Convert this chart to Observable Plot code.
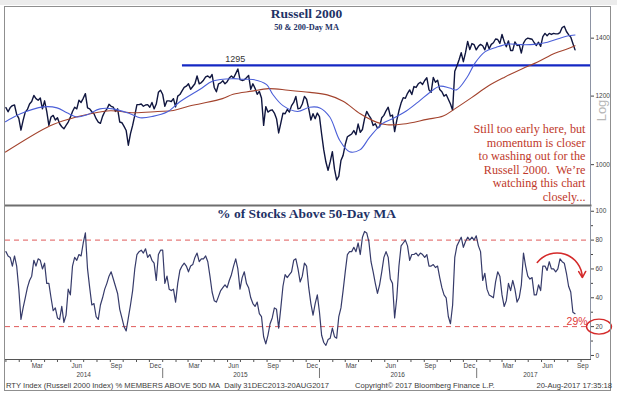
<!DOCTYPE html>
<html>
<head>
<meta charset="utf-8">
<script src="https://cdn.jsdelivr.net/npm/d3@7"></script>
<script src="https://cdn.jsdelivr.net/npm/@observablehq/plot@0.6"></script>
<style>
html, body { margin:0; padding:0; background:#fff; }
#wrap { position:relative; width:617px; height:397px; overflow:hidden; }
#band { position:absolute; left:0; top:0; width:617px; height:5px; background:#ececec; }
#topChart, #bottomChart { position:absolute; left:0; }
#topChart { top:0; }
#bottomChart { top:205px; }
#frame { position:absolute; left:4px; top:6px; width:605px; height:383px; border:1.5px solid #8f8f8f; pointer-events:none; }
.foot { position:absolute; top:381px; font:7.6px "Liberation Sans", Arial, sans-serif; color:#3a3a3a; white-space:nowrap; line-height:10px; }
svg { overflow: visible; }
</style>
</head>
<body>
<div id="wrap">
  <div id="band"></div>
  <div id="topChart"></div>
  <div id="bottomChart"></div>
  <div id="frame"></div>
  <div class="foot" style="left:6px">RTY Index (Russell 2000 Index) % MEMBERS ABOVE 50D MA&nbsp; Daily 31DEC2013-20AUG2017</div>
  <div class="foot" style="left:355px">Copyright© 2017 Bloomberg Finance L.P.</div>
  <div class="foot" style="right:5px">20-Aug-2017 17:35:18</div>
</div>
<script>
// ---------- DATA (5-calendar-day grid starting 2014-01-01) ----------
const rty2014 = [1164,1151,1164,1170,1172,1143,1131,1096,1125,1150,
  1158,1175,1183,1202,1192,1187,1194,1160,1185,1152,
  1110,1135,1140,1126,1133,1115,1106,1100,1110,1120,
  1134,1152,1165,1160,1187,1180,1193,1208,1163,1160,
  1151,1145,1130,1120,1116,1137,1151,1159,1174,1168,
  1165,1152,1160,1120,1118,1107,1095,1053,1086,1110,
  1140,1173,1173,1175,1168,1172,1173,1165,1180,1160,
  1175,1212,1219];
const rty2015 = [1205,1168,1185,1185,1183,1192,1166,1200,1205,1217,
  1228,1232,1240,1222,1231,1240,1266,1240,1244,1252,
  1263,1266,1260,1271,1228,1214,1240,1243,1250,1240,
  1247,1259,1266,1259,1274,1290,1254,1251,1253,1260,
  1268,1222,1240,1225,1206,1215,1194,1110,1167,1150,
  1155,1157,1147,1130,1088,1117,1147,1145,1158,1150,
  1170,1180,1199,1160,1162,1175,1199,1190,1160,1126,
  1145,1130,1147];
const rty2016 = [1136,1085,1040,1007,985,1008,1035,988,960,970,
  1011,1025,1055,1077,1081,1085,1095,1083,1114,1090,
  1098,1130,1152,1140,1130,1110,1115,1102,1106,1133,
  1140,1154,1165,1138,1141,1092,1125,1154,1178,1195,
  1193,1209,1220,1205,1231,1228,1240,1245,1238,1251,
  1260,1220,1212,1261,1245,1252,1221,1214,1200,1205,
  1190,1175,1156,1282,1300,1322,1347,1315,1347,1388,
  1358,1380,1376];
const rty2017 = [1357,1370,1377,1372,1357,1384,1361,1377,1383,1397,
  1395,1381,1414,1388,1368,1390,1355,1355,1386,1373,
  1375,1346,1382,1395,1400,1398,1396,1383,1373,1385,
  1370,1406,1418,1409,1418,1414,1418,1416,1416,1421,
  1440,1445,1425,1413,1404,1380,1357];

const pct2014 = [72,69,68,62,69,62,46,25,33,40,
  47,52,55,66,62,67,66,60,64,50,
  50,40,31,33,26,25,34,23,28,46,
  42,62,68,66,70,69,78,85,60,47,
  35,36,27,25,35,40,46,50,55,58,
  53,48,43,32,26,20,17,26,35,45,
  60,70,72,73,71,74,68,70,66,64,
  52,70,73];
const pct2015 = [73,50,55,46,45,46,37,50,59,62,
  64,62,58,62,63,68,71,65,67,67,
  69,65,55,44,38,37,41,45,47,49,
  47,52,56,62,67,60,46,54,58,50,
  47,40,36,34,37,29,27,13,8,14,
  22,26,33,32,19,33,48,56,54,56,
  58,66,67,60,51,55,64,62,47,36,
  28,36,42];
const pct2016 = [30,14,9,7,11,12,19,13,12,27,
  33,45,58,70,72,72,75,72,78,70,
  82,86,85,79,65,58,50,43,49,58,
  68,72,68,53,50,26,40,62,76,78,
  80,76,66,70,70,71,69,71,70,68,
  70,62,62,63,61,62,54,47,42,40,
  27,22,35,68,76,79,82,75,79,82,
  80,82,80];
const pct2017 = [83,76,72,52,57,46,42,41,40,51,
  58,55,42,34,38,50,45,52,46,37,
  40,49,71,62,55,53,54,42,42,49,
  45,62,62,59,65,60,60,58,60,67,
  65,64,57,48,44,30,29];

// moving averages
const ma50Dates = ["2013-12-31","2014-02-04","2014-03-29","2014-04-30","2014-05-23","2014-06-16","2014-07-09","2014-08-08","2014-09-07","2014-10-17","2014-11-09","2014-12-09",
  "2015-01-11","2015-02-10","2015-03-29","2015-04-28","2015-06-13","2015-07-07","2015-07-30","2015-08-31","2015-09-14","2015-10-08","2015-11-11","2015-12-09",
  "2016-01-02","2016-01-25","2016-02-17","2016-03-11","2016-04-04","2016-04-27","2016-05-27","2016-06-19","2016-07-22","2016-08-21","2016-09-13","2016-10-07","2016-10-30","2016-11-15","2016-12-09","2016-12-28",
  "2017-01-20","2017-02-15","2017-03-15","2017-04-15","2017-05-15","2017-06-15","2017-07-10","2017-07-31","2017-08-18"];
const ma50Values = [1121,1145,1166,1163,1148,1135,1142,1160,1160,1145,1133,1137,
  1150,1182,1222,1249,1257,1255,1254,1237,1206,1170,1152,1165,
  1163,1135,1067,1035,1040,1076,1116,1130,1154,1185,1211,1232,1226,1220,1260,1310,
  1350,1366,1378,1376,1377,1385,1398,1408,1412];
const ma200Dates = ["2013-12-31","2014-04-14","2014-05-31","2014-07-17","2014-09-01","2014-10-25","2014-12-20",
  "2015-01-26","2015-03-02","2015-03-30","2015-05-20","2015-06-14","2015-07-28","2015-09-04","2015-10-20","2015-12-10",
  "2016-01-19","2016-02-25","2016-04-05","2016-05-14","2016-06-06","2016-07-14","2016-09-07","2016-10-15","2016-11-11","2016-12-21",
  "2017-01-27","2017-03-07","2017-04-16","2017-05-23","2017-07-02","2017-08-01","2017-08-18"];
const ma200Values = [1034,1109,1130,1145,1154,1148,1152,
  1155,1168,1176,1192,1206,1216,1224,1219,1212,
  1204,1184,1145,1119,1112,1114,1128,1138,1160,1196,
  1232,1262,1290,1314,1345,1361,1372];

const rtyTicks = [1000, 1200, 1400];
const pctTicks = [0, 20, 40, 60, 80, 100];
const pctMinorTicks = [10, 30, 50, 70, 90];
const pctBands = [20, 80];
const resistance = 1295;
const resistanceStart = "2015-02-16";
const monthLabelNames = ["Mar","Jun","Sep","Dec"];
const yearNames = ["2014","2015","2016","2017"];
const yearLabelDates = ["2014-07-01","2015-07-01","2016-07-01","2017-05-06"];
const annotationText = "Still too early here, but\nmomentum is closer\nto washing out for the\nRussell 2000.  We\u2019re\nwatching this chart\nclosely...";

// ---------- BUILD ----------
const DAY = 864e5;
const gridStart = Date.UTC(2014, 0, 1);
const toDate = s => new Date(s + "T00:00:00Z");
const xDomain = [toDate("2013-12-31"), toDate("2017-09-23")];

const rty = [].concat(rty2014, rty2015, rty2016, rty2017)
  .map((v, i) => ({date: new Date(gridStart + i * 5 * DAY), value: v}));
const pct = [].concat(pct2014, pct2015, pct2016, pct2017)
  .map((v, i) => ({date: new Date(gridStart + i * 5 * DAY), value: v}));
const ma50 = ma50Dates.map((d, i) => ({date: toDate(d), value: ma50Values[i]}));
const ma200 = ma200Dates.map((d, i) => ({date: toDate(d), value: ma200Values[i]}));

const monthStarts = d3.utcMonth.range(toDate("2014-01-01"), toDate("2017-09-02"));
const monthLabels = [];
for (const yr of [2014, 2015, 2016, 2017]) {
  [2, 5, 8, 11].forEach((m, k) => {
    if (yr === 2017 && m > 8) return;
    const day = (yr === 2017 && m === 8) ? 5 : 15;
    monthLabels.push({date: new Date(Date.UTC(yr, m, day)), label: monthLabelNames[k]});
  });
}
const yearLabels = yearNames.map((n, i) => ({date: toDate(yearLabelDates[i]), label: n}));
const yearStarts = ["2015-01-01","2016-01-01","2017-01-01"].map(toDate);

const serif = "Liberation Serif, Times New Roman, serif";
const sans = "Liberation Sans, Arial, sans-serif";
const navy = "#1e3266";
const red = "#c0392b";

const topPlot = Plot.plot({
  width: 617, height: 205,
  marginLeft: 5, marginRight: 27, marginTop: 7, marginBottom: 0,
  style: {background: "transparent", fontFamily: sans, overflow: "visible"},
  x: {type: "utc", domain: xDomain, axis: null},
  y: {type: "log", domain: [897, 1519], axis: null},
  marks: [
    Plot.frame({anchor: "right", stroke: "#8d93a3"}),
    Plot.frame({anchor: "bottom", stroke: "#6f6f6f", strokeWidth: 2}),
    Plot.axisY({anchor: "right", ticks: rtyTicks, tickSize: 3, tickPadding: 2, fontSize: 6.5,
      tickFormat: d => String(d), label: null, color: "#444"}),
    Plot.text(["Log"], {frameAnchor: "right", textAnchor: "middle", rotate: -90, dx: 11, dy: 4,
      fontSize: 13, fill: "#b8b8b8", fontFamily: sans}),
    Plot.ruleY([resistance], {x1: toDate(resistanceStart), x2: xDomain[1], stroke: "#1428c4", strokeWidth: 2.3, dy: -2}),
    Plot.text([resistance], {x: toDate("2015-06-19"), y: d => d, text: d => String(d), dy: -8,
      fontSize: 9, fill: "#333", fontFamily: sans}),
    Plot.line(rty, {x: "date", y: "value", stroke: "#10163f", strokeWidth: 1.4}),
    Plot.line(ma200, {x: "date", y: "value", stroke: "#a3432d", strokeWidth: 1.1, curve: "catmull-rom"}),
    Plot.line(ma50, {x: "date", y: "value", stroke: "#4b5fd8", strokeWidth: 1.1, curve: "catmull-rom"}),
    Plot.text(["Russell 2000"], {frameAnchor: "top", textAnchor: "middle", lineAnchor: "top", dx: 8.5, dy: 1.2,
      fontSize: 13.5, fontWeight: "bold", fill: navy, fontFamily: serif}),
    Plot.text(["50 & 200-Day MA"], {frameAnchor: "top", textAnchor: "middle", lineAnchor: "top", dx: 8.5, dy: 16.4,
      fontSize: 8.3, fontWeight: "bold", fill: navy, fontFamily: serif}),
    Plot.text([annotationText], {frameAnchor: "bottom-right", textAnchor: "end", lineAnchor: "bottom",
      dx: -5, dy: -5, lineHeight: 1.1, fontSize: 12.2, fill: red, fontFamily: serif})
  ]
});
document.getElementById("topChart").appendChild(topPlot);

const last = pct[pct.length - 1];
const arrowSpec = [{x1: toDate("2017-05-22"), y1: 64.5, x2: toDate("2017-09-04"), y2: 54}];

const bottomPlot = Plot.plot({
  width: 617, height: 192,
  marginLeft: 5, marginRight: 27, marginTop: 1, marginBottom: 38,
  style: {background: "transparent", fontFamily: sans, overflow: "visible"},
  x: {type: "utc", domain: xDomain, axis: null},
  y: {domain: [-2.8, 103.3], axis: null},
  marks: [
    Plot.frame({anchor: "right", stroke: "#8d93a3"}),
    Plot.frame({anchor: "bottom", stroke: "#555"}),
    Plot.axisY({anchor: "right", ticks: pctTicks, tickSize: 3, tickPadding: 2, fontSize: 6.5,
      tickFormat: d => String(d), label: null, color: "#444"}),
    Plot.axisY({anchor: "right", ticks: pctMinorTicks, tickSize: 2, tickFormat: () => "", label: null, color: "#444"}),
    Plot.axisX({anchor: "bottom", ticks: monthStarts, tickSize: 3, tickFormat: () => "", label: null, color: "#555"}),
    Plot.text(monthLabels, {x: "date", text: "label", frameAnchor: "bottom", lineAnchor: "middle", dy: 6,
      fontSize: 6.5, fill: "#444", fontFamily: sans}),
    Plot.text(yearLabels, {x: "date", text: "label", frameAnchor: "bottom", lineAnchor: "middle", dy: 15.5,
      fontSize: 6.5, fill: "#444", fontFamily: sans}),
    Plot.ruleX(yearStarts, {y1: -9, y2: -16, stroke: "#777"}),
    Plot.ruleY(pctBands, {stroke: "#e05a5a", strokeDasharray: "5,4", strokeWidth: 1}),
    Plot.line(pct, {x: "date", y: "value", stroke: "#363b6a", strokeWidth: 1.2}),
    Plot.text(["% of Stocks Above 50-Day MA"], {frameAnchor: "top", textAnchor: "middle", lineAnchor: "top", dx: 8.5, dy: 1.5,
      fontSize: 13.5, fontWeight: "bold", fill: navy, fontFamily: serif}),
    Plot.text([last], {x: "date", y: "value", text: d => d.value + "%", dy: 8, dx: 2,
      fontSize: 10.5, fill: "#e03a3a", fontFamily: sans}),
    Plot.arrow(arrowSpec, {x1: "x1", y1: "y1", x2: "x2", y2: "y2", bend: 70, stroke: "#d42a2a",
      strokeWidth: 1.5, headLength: 7})
  ]
});
document.getElementById("bottomChart").appendChild(bottomPlot);

// circle around the 20 tick label
const yb = bottomPlot.scale("y");
d3.select(bottomPlot).append("ellipse")
  .attr("cx", 617 - 27 + 9).attr("cy", yb.apply(20) + 0.5)
  .attr("rx", 12.5).attr("ry", 7.5)
  .attr("fill", "none").attr("stroke", "#d42a2a").attr("stroke-width", 1.4);
</script>
</body>
</html>
